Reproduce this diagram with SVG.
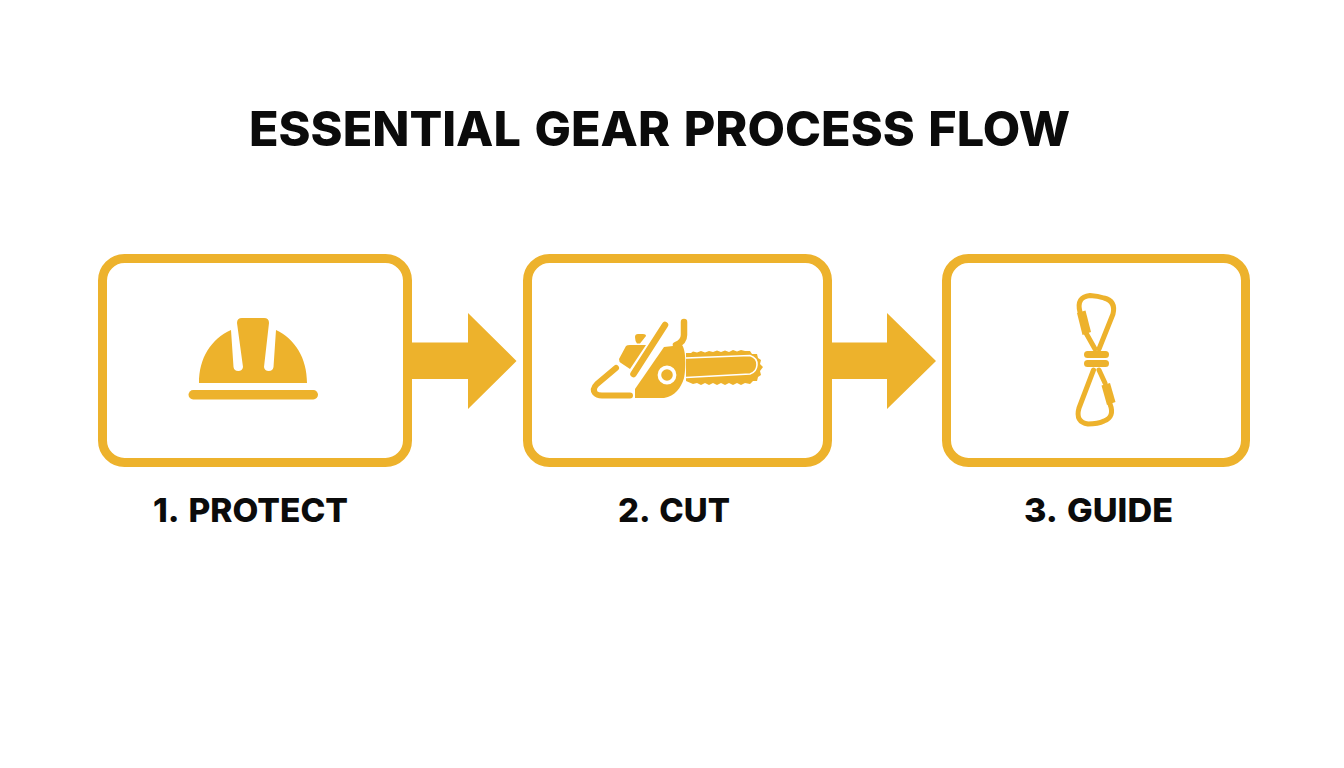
<svg xmlns="http://www.w3.org/2000/svg" width="1344" height="768" viewBox="0 0 1344 768">
<style>
.box{fill:#fff;stroke:#EDB22C;stroke-width:9}
.f{fill:#EDB22C}
.s{fill:none;stroke:#EDB22C;stroke-linecap:round;stroke-linejoin:round}
text{font-family:"Inter","Liberation Sans",sans-serif;font-weight:800;fill:#0b0b0b}
.t{font-size:48px;word-spacing:3px}
.l{font-size:33px;word-spacing:3px}
</style>
<rect width="1344" height="768" fill="#fff"/>
<g id="title"><text class="t" x="249" y="146" textLength="821" lengthAdjust="spacingAndGlyphs">ESSENTIAL GEAR PROCESS FLOW</text></g>
<g id="connectors">
<path class="f" d="M410 342.500H468V313L516.500 361L468 409V379H410Z"/>
<path class="f" d="M830 342.500H887V313L936 361L887 409V379H830Z"/>
</g>
<g id="node-protect">
<rect class="box" x="102.500" y="258.500" width="305" height="204" rx="22"/>
<path class="f" d="M199 383C199 358 211 339 231 330L233.500 367A4.800 4.800 0 0 0 243 367L237 323Q237 318 242 318H264Q269 318 269 323L264 367A4.800 4.800 0 0 0 273.500 367L276 330C295 339 307 358 307 383Z"/>
<rect class="f" x="188.500" y="390" width="129.500" height="9.500" rx="4.700"/>
<text class="l" x="153" y="521.500" textLength="195" lengthAdjust="spacingAndGlyphs">1. PROTECT</text>
</g>
<g id="node-cut">
<rect class="box" x="527.500" y="258.500" width="300" height="204" rx="22"/>
<path class="f" d="M686 353L691 353L693 351.500L697 352.500L701 351L705 352.500L709 351L713 352L717 350.500L721 352L725 350.500L729 352L733 350L737 351.500L741 350L745 351L750 351L752 354L757 354L758 358L761 360L760 364L763 367L760 371L761 375L758 377L757 381L753 381L750 384L745 383L741 385L737 383L733 385L729 383L725 385L721 383L717 385L713 383L709 385L705 383L701 385L697 383L693 384L686 381Z"/>
<path d="M686 358L750 355.500Q757.500 358 757 365Q756.500 372 750 374L686 377.500" fill="#EDB22C" stroke="#fff" stroke-width="1.600"/>
<path class="f" d="M635 398V389L664 347L682 345C686 350 686 368 684 378C681 388 675 396 664 398Z"/>
<circle cx="667" cy="375" r="7.600" fill="#EDB22C" stroke="#fff" stroke-width="3.600"/>
<path class="s" stroke-width="6.500" d="M633.500 374L665 325"/>
<path class="s" stroke-width="6.500" d="M684 322V335Q684 342 676 345"/>
<path class="f" d="M619 359L626 346Q627 345 630 345H646L630 369L621 363Q619 362 619 359Z"/>
<path class="f" d="M635 337Q635 334 638 334H643Q646 334 646 336L640 343.500H637Q635 341 635 337Z"/>
<path class="s" stroke-width="6" d="M616 368L597 384Q592 389 595 393Q597 395.500 602 395.500H630"/>
<text class="l" x="618" y="521.500" textLength="112" lengthAdjust="spacingAndGlyphs">2. CUT</text>
</g>
<g id="node-guide">
<rect class="box" x="946.500" y="258.500" width="299" height="204" rx="22"/>
<g class="s" stroke-width="5" stroke-linecap="butt">
<path d="M1080 312Q1076 297 1090 295.500Q1098 296 1104 298Q1116 301 1113 314L1099 349"/>
<path d="M1086 333L1095 349"/>
<path d="M1093.500 370L1079 408Q1075 422 1088 424Q1098 424 1104 421Q1115 417 1110 404"/>
<path d="M1099 370L1105 383"/>
</g>
<path class="f" d="M1077 313L1085.500 310.500L1091 332L1082.500 335Z"/>
<path class="f" d="M1101.500 385.500L1110 383L1115.500 402L1107 405Z"/>
<rect class="f" x="1084" y="351" width="25" height="7" rx="3.500"/>
<rect class="f" x="1084" y="360" width="25" height="7" rx="3.500"/>
<text class="l" x="1024" y="521.500" textLength="149" lengthAdjust="spacingAndGlyphs">3. GUIDE</text>
</g>
</svg>
